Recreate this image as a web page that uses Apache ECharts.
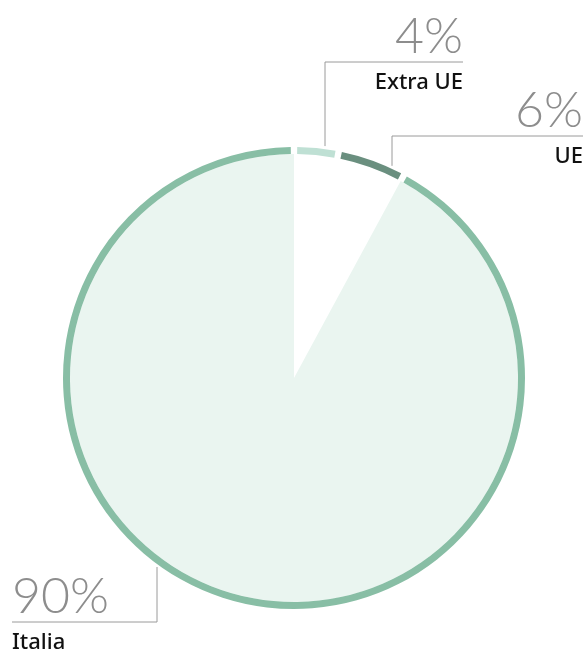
<!DOCTYPE html>
<html>
<head>
    <meta charset="utf-8">
    <script src="https://cdn.jsdelivr.net/npm/echarts@6/dist/echarts.min.js"></script>
    <style>
        html, body {margin: 0; padding: 0; background: #fff;}
        #main {width: 587px; height: 653px;}
    </style>
</head>
<body>
<div id="main"></div>
<script type="text/javascript">
    // dati
    var categories = ['Extra UE', 'UE', 'Italia'];
    var values = [3.1, 4.8, 92.1];
    var pctLabels = ['4%', '6%', '90%'];

    var ringColors = ['#bfe0d4', '#6a8f7f', '#88bea5'];
    var fillColors = ['#ffffff', '#ffffff', '#eaf5f0'];

    var cx = 294, cy = 378, R = 231;

    // punto sul bordo esterno del cerchio per una data x
    function ringY(x, up) {
        var d = Math.sqrt(R * R - (x - cx) * (x - cx));
        return up ? cy - d - 3 : cy + d + 3;
    }

    // posizione etichette e linee guida
    var layouts = [
        {lineX: 325, lineY: 62, endX: 463, up: true, align: 'right'},
        {lineX: 392, lineY: 136, endX: 583, up: true, align: 'right'},
        {lineX: 157, lineY: 622, endX: 12, up: false, align: 'left'}
    ];

    var myChart = echarts.init(document.getElementById('main'));

    myChart.setOption({
        animation: false,
        series: [{
            type: 'pie',
            center: [cx, cy],
            radius: [0, 224],
            startAngle: 90,
            silent: true,
            label: {show: false},
            labelLine: {show: false},
            data: categories.map(function (c, i) {
                return {name: c, value: values[i], itemStyle: {color: fillColors[i]}};
            })
        }, {
            type: 'pie',
            center: [cx, cy],
            radius: [224, 231],
            startAngle: 90,
            padAngle: 1.6,
            silent: true,
            data: categories.map(function (c, i) {
                return {name: c, value: values[i], itemStyle: {color: ringColors[i]}};
            }),
            label: {
                show: true,
                overflow: 'none',
                width: 200,
                formatter: function (p) {
                    return '{p|' + pctLabels[p.dataIndex] + '}\n{n|' + p.name + '}';
                },
                rich: {
                    p: {
                        fontFamily: 'Lato', fontWeight: 300, fontSize: 50,
                        color: '#8d8d8d', lineHeight: 50
                    },
                    n: {
                        fontFamily: 'Noto Sans', fontWeight: 500, fontSize: 22,
                        color: '#111111', lineHeight: 42
                    }
                }
            },
            labelLine: {
                show: true,
                lineStyle: {color: '#9a9a9a', width: 1}
            },
            labelLayout: function (params) {
                var l = layouts[params.dataIndex];
                var y0 = ringY(l.lineX, l.up);
                return {
                    x: l.endX,
                    y: l.lineY - 50,
                    align: l.align,
                    verticalAlign: 'top',
                    labelLinePoints: [[l.lineX, y0], [l.lineX, l.lineY], [l.endX, l.lineY]]
                };
            }
        }]
    });
</script>
</body>
</html>
